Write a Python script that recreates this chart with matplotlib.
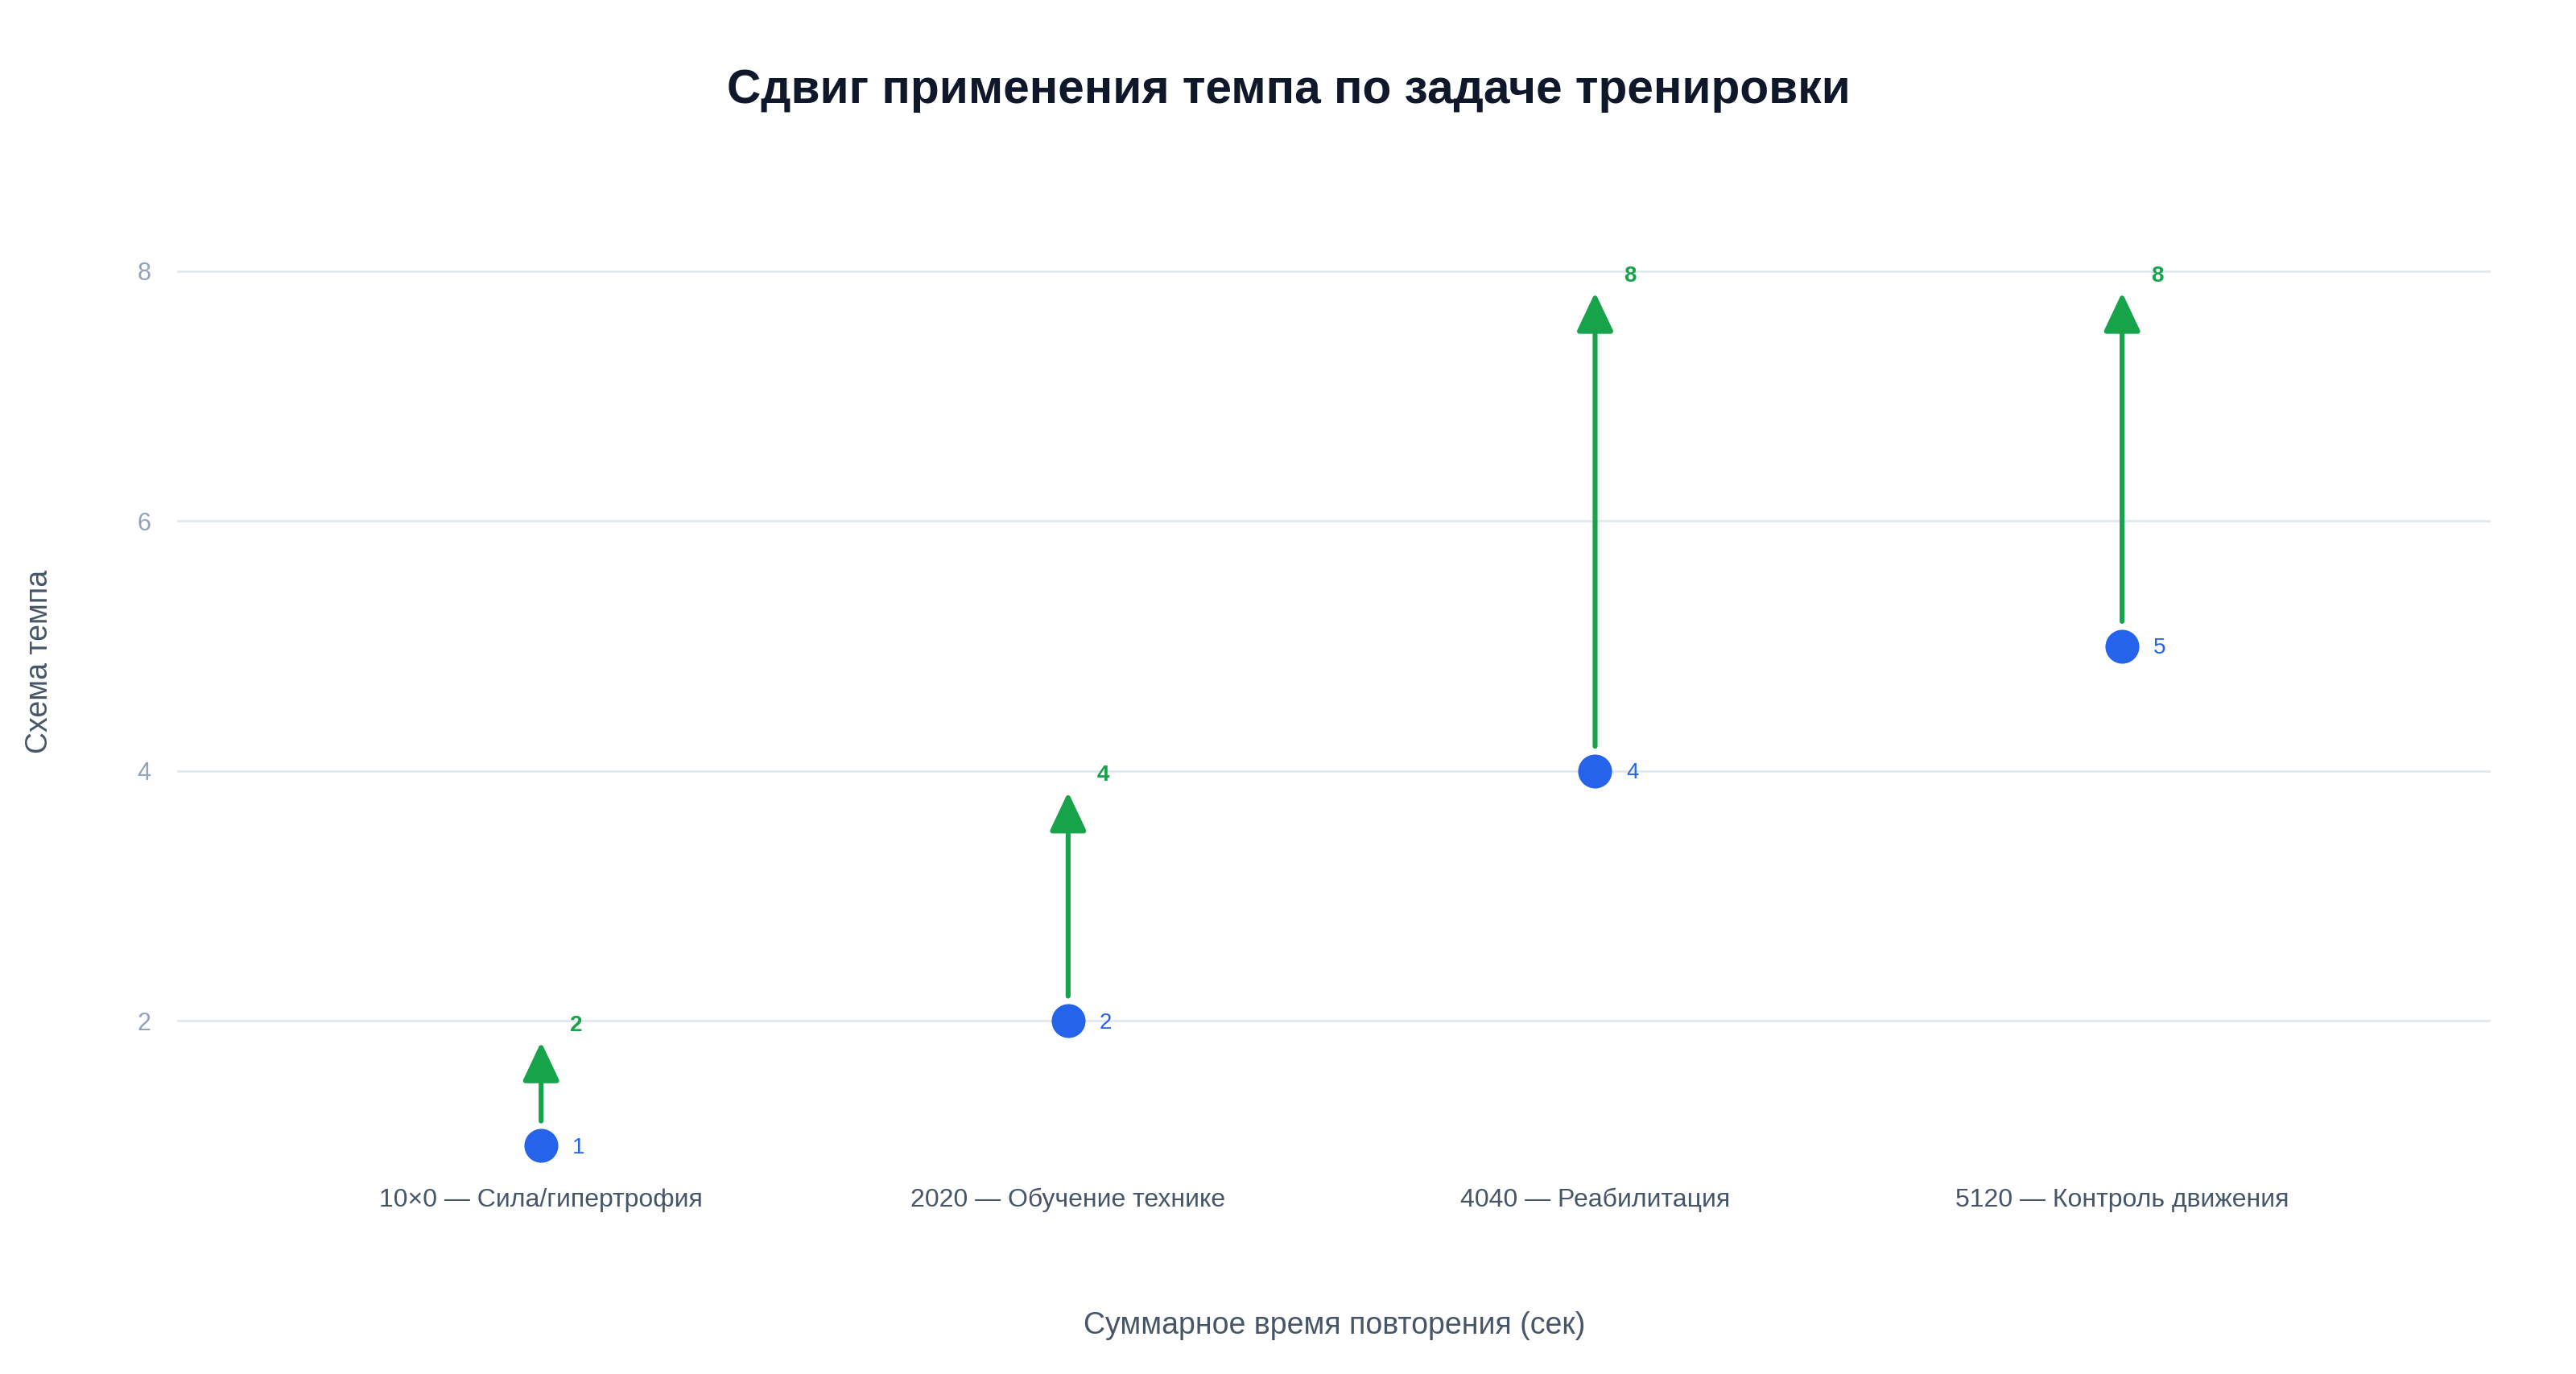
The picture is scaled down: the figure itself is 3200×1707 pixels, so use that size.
import matplotlib
matplotlib.use("Agg")
import matplotlib.pyplot as plt

plt.rcParams['font.family'] = ['Liberation Sans', 'DejaVu Sans']

categories = ["10×0 — Сила/гипертрофия", "2020 — Обучение технике",
              "4040 — Реабилитация", "5120 — Контроль движения"]
start_values = [1, 2, 4, 5]
end_values = [2, 4, 8, 8]
y_ticks = [2, 4, 6, 8]

BLUE = "#2563EB"
GREEN = "#16A34A"

fig = plt.figure(figsize=(16, 8.535), dpi=200)
ax = fig.add_axes([0.0689, 0.1435, 0.8981, 0.75])

xs = list(range(len(categories)))

for x, s, e in zip(xs, start_values, end_values):
    ax.annotate("", xy=(x, e), xytext=(x, s),
                arrowprops=dict(arrowstyle="-|>,head_length=0.74,head_width=0.35",
                                mutation_scale=20, color=GREEN, lw=2.2,
                                shrinkA=11, shrinkB=9.5))
    ax.annotate(str(e), xy=(x, e), xytext=(13, -2), textcoords="offset points",
                ha="left", va="center", color=GREEN, fontsize=10,
                fontweight="bold")
    ax.annotate(str(s), xy=(x, s), xytext=(14, -1), textcoords="offset points",
                ha="left", va="center", color=BLUE, fontsize=10)

ax.scatter(xs, start_values, s=230, color=BLUE, zorder=5, linewidths=0)

ax.set_xlim(-0.69, 3.70)
ax.set_ylim(0.75, 9.0)
ax.set_xticks(xs)
ax.set_xticklabels(categories, fontsize=11.5, color="#475569")
ax.set_yticks(y_ticks)
ax.set_yticklabels([str(t) for t in y_ticks], fontsize=11, color="#94A3B8")
ax.tick_params(axis="both", length=0)
ax.tick_params(axis="x", pad=5)
ax.tick_params(axis="y", pad=12)
ax.grid(axis="y", color="#E2E8F0", lw=1.0)
ax.set_axisbelow(True)
for sp in ax.spines.values():
    sp.set_visible(False)

ax.set_xlabel("Суммарное время повторения (сек)", fontsize=13.5, color="#475569",
              labelpad=44)
ax.set_ylabel("Схема темпа", fontsize=13.5, color="#475569", labelpad=37)

fig.text(0.5003, 0.934, "Сдвиг применения темпа по задаче тренировки",
         ha="center", va="center", fontsize=21.1, fontweight="bold",
         color="#0F172A")

fig.savefig("out.png", dpi=200, facecolor="white")
